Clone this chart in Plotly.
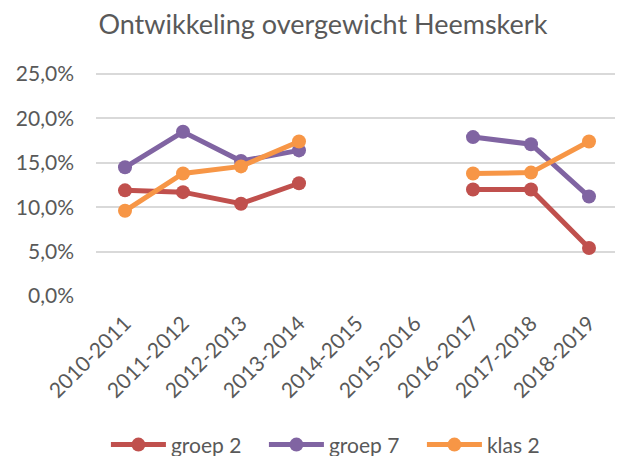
import plotly.graph_objects as go

categories = ["2010-2011", "2011-2012", "2012-2013", "2013-2014", "2014-2015",
              "2015-2016", "2016-2017", "2017-2018", "2018-2019"]
groep2 = [0.119, 0.117, 0.104, 0.127, None, None, 0.120, 0.120, 0.054]
groep7 = [0.145, 0.185, 0.152, 0.164, None, None, 0.179, 0.171, 0.112]
klas2 = [0.096, 0.138, 0.146, 0.174, None, None, 0.138, 0.139, 0.174]
series_names = ["groep 2", "groep 7", "klas 2"]
colors = ["#C0504D", "#8064A2", "#F79646"]

FONT = "Lato"
GREY = "#595959"

# page body has an 8px default margin, so the figure is 8px smaller than the window
fig = go.Figure()
for name, vals, col in zip(series_names, [groep2, groep7, klas2], colors):
    fig.add_trace(go.Scatter(
        x=categories, y=vals, name=name, mode="lines+markers",
        line=dict(color=col, width=5), marker=dict(color=col, size=14),
        connectgaps=False,
    ))

fig.update_layout(
    width=615, height=448,
    margin=dict(l=88, r=5, t=65, b=160, autoexpand=False),
    paper_bgcolor="white", plot_bgcolor="white",
    separators=",.",
    title=dict(text="Ontwikkeling overgewicht Heemskerk", x=0.512, xanchor="center",
               y=0.962, yanchor="middle", automargin=False,
               font=dict(family=FONT, size=27, color=GREY)),
    showlegend=True,
    legend=dict(orientation="h", x=0.019, xanchor="left", y=-0.668, yanchor="middle",
                font=dict(family=FONT, size=21, color=GREY), itemwidth=55,
                entrywidth=88, tracegroupgap=0),
    font=dict(family=FONT, color=GREY),
)
fig.update_yaxes(range=[0, 0.2512], dtick=0.05, tickformat=".1%",
                 showgrid=True, gridcolor="#D9D9D9", gridwidth=1.5,
                 zeroline=False, showline=False, automargin=False,
                 tickfont=dict(family=FONT, size=21, color=GREY),
                 ticklabelstandoff=21)
fig.update_xaxes(showgrid=False, zeroline=False, showline=False, automargin=False,
                 range=[-0.5, len(categories) - 0.5],
                 tickangle=-45, tickfont=dict(family=FONT, size=21, color=GREY),
                 ticklabelstandoff=10)
fig.write_html("out.html")
